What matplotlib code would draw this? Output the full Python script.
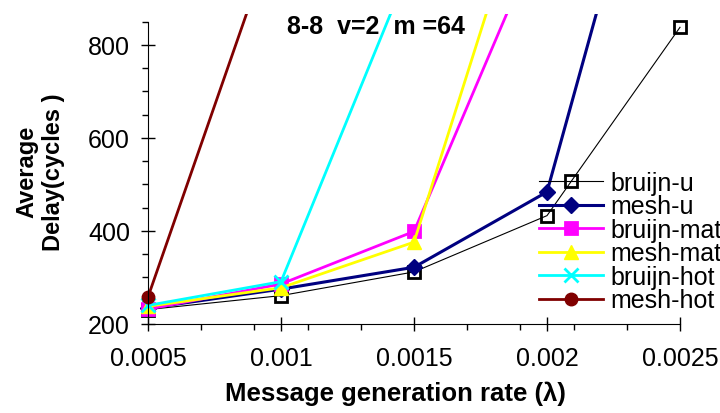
import numpy as np
import matplotlib.pyplot as plt
from matplotlib.ticker import MultipleLocator, FixedLocator
from matplotlib.transforms import Bbox, TransformedBbox

plt.rcParams['font.family'] = ['Liberation Sans', 'DejaVu Sans']

rate = [0.0005, 0.001, 0.0015, 0.002, 0.0025]

bruijn_u = [231, 261, 312, 433, 838]
mesh_u = [234, 275, 322, 484, 1517]
bruijn_mat = [232, 286, 399, 1070]
mesh_mat = [238, 278, 376, 1280]
bruijn_hot = [240, 291, 990]
mesh_hot = [258, 1080]

series = [
    ('bruijn-u', bruijn_u, 'black', 's', 'none', 0.8, 8),
    ('mesh-u', mesh_u, '#000080', 'D', '#000080', 2.2, 8),
    ('bruijn-mat', bruijn_mat, '#ff00ff', 's', '#ff00ff', 2.0, 8),
    ('mesh-mat', mesh_mat, '#ffff00', '^', '#ffff00', 2.0, 10),
    ('bruijn-hot', bruijn_hot, '#00ffff', 'x', '#00ffff', 2.0, 10),
    ('mesh-hot', mesh_hot, '#800000', 'o', '#800000', 2.0, 9),
]

fig = plt.figure(figsize=(7.2, 4.14), dpi=100)
ax = fig.add_axes([148/720, 1 - 325/414, 532/720, 302.3/414])

# clip lines at the top of the plot but let end markers show at the sides
clip = TransformedBbox(Bbox([[-0.05, -0.1], [1.05, 1.025]]), ax.transAxes)

for name, vals, col, mk, fc, lw, ms in series:
    ln, = ax.plot(rate[:len(vals)], vals, color=col, lw=lw, marker=mk,
                  markersize=ms, markerfacecolor=fc, markeredgecolor=col,
                  markeredgewidth=2 if mk in ('s', 'x') else 1, label=name)
    ln.set_clip_box(clip)

ax.set_xlim(0.0005, 0.0025)
ax.set_ylim(200, 850)
ax.spines['top'].set_visible(False)
ax.spines['right'].set_visible(False)

ax.xaxis.set_major_locator(FixedLocator(rate))
ax.set_xticklabels(['0.0005', '0.001', '0.0015', '0.002', '0.0025'])
ax.xaxis.set_minor_locator(MultipleLocator(0.0002, offset=0.0005))
ax.yaxis.set_major_locator(FixedLocator([200, 400, 600, 800]))
ax.yaxis.set_minor_locator(MultipleLocator(50))

ax.tick_params(which='major', direction='inout', length=10, width=1,
               labelsize=18, pad=8)
ax.tick_params(axis='x', which='major', pad=11)
ax.tick_params(which='minor', direction='out', length=4, width=1)

fig.text(376/720, 1 - 27/414, '8-8  v=2  m =64', fontsize=18,
         fontweight='bold', ha='center', va='center')
fig.text(395/720, 1 - 394/414, 'Message generation rate (\u03bb)',
         fontsize=18.5, fontweight='bold', ha='center', va='center')
fig.text(40/720, 1 - 172/414, 'Average\nDelay(cycles )', fontsize=17,
         fontweight='bold', ha='center', va='center', rotation=90,
         multialignment='center')

ax.legend(loc='center left', bbox_to_anchor=(539/720, 1 - 242.5/414),
          bbox_transform=fig.transFigure, frameon=False, fontsize=18,
          borderpad=0, borderaxespad=0, handlelength=2.55,
          handletextpad=0.3, labelspacing=-0.02, numpoints=1)

fig.savefig('out.png', dpi=100)
